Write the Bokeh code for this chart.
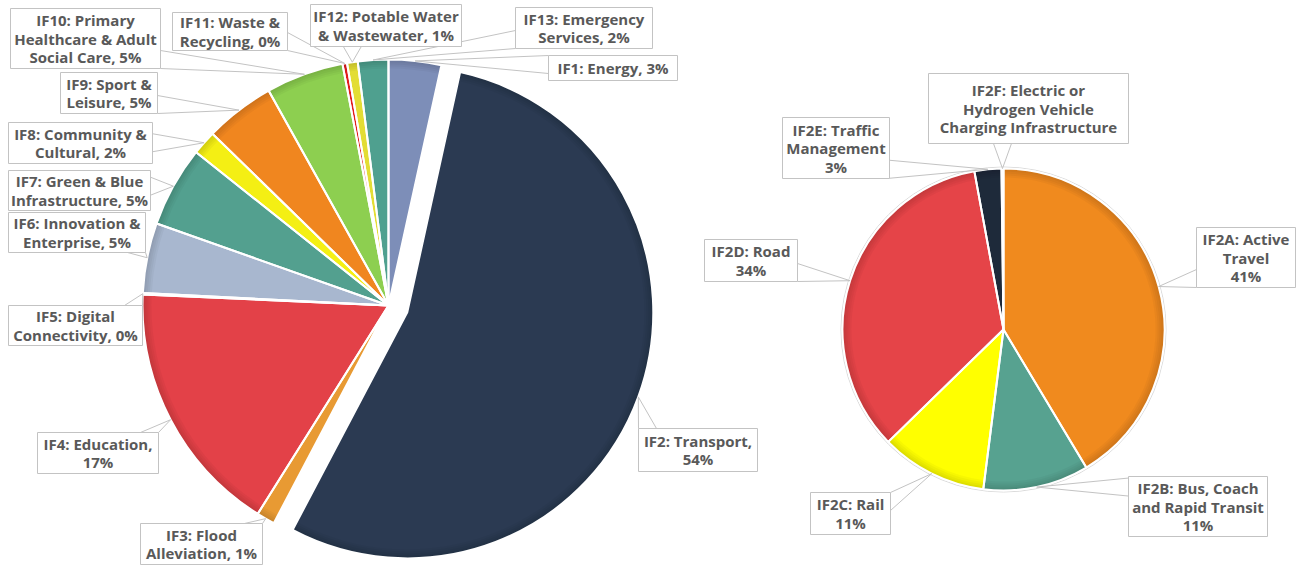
import numpy as np
from bokeh.plotting import figure
from bokeh.models import Range1d, ColumnDataSource
from bokeh.core.properties import value
from bokeh.embed import file_html
from bokeh.resources import INLINE

# ---------------- data ----------------
left_names = ["IF1", "IF2", "IF3", "IF4", "IF5", "IF6", "IF7", "IF8", "IF9", "IF10", "IF11", "IF12", "IF13"]
left_values = [3.45, 54.3, 1.2, 16.8, 0.1, 4.6, 5.3, 1.6, 4.6, 5.1, 0.3, 0.7, 2.0]
left_labels = [
    ["IF1: Energy, {p}"],
    ["IF2: Transport,", "{p}"],
    ["IF3: Flood", "Alleviation, {p}"],
    ["IF4: Education,", "{p}"],
    ["IF5: Digital", "Connectivity, {p}"],
    ["IF6: Innovation &", "Enterprise, {p}"],
    ["IF7: Green & Blue", "Infrastructure, {p}"],
    ["IF8: Community &", "Cultural, {p}"],
    ["IF9: Sport &", "Leisure, {p}"],
    ["IF10: Primary", "Healthcare & Adult", "Social Care, {p}"],
    ["IF11: Waste &", "Recycling, {p}"],
    ["IF12: Potable Water", "& Wastewater, {p}"],
    ["IF13: Emergency", "Services, {p}"],
]
left_colors = ["#7D8EB8", "#2B3A52", "#E89A33", "#E34148", "#9BB06A", "#A8B7CF", "#53A08F",
               "#F4EF14", "#F0861F", "#8DCF50", "#E21C1C", "#E3DD34", "#4FA08F"]

right_names = ["IF2A", "IF2B", "IF2C", "IF2D", "IF2E", "IF2F"]
right_values = [41.4, 10.6, 10.7, 34.4, 2.7, 0.2]
right_labels = [
    ["IF2A: Active", "Travel", "{p}"],
    ["IF2B: Bus, Coach", "and Rapid Transit", "{p}"],
    ["IF2C: Rail", "{p}"],
    ["IF2D: Road", "{p}"],
    ["IF2E: Traffic", "Management", "{p}"],
    ["IF2F: Electric or", "Hydrogen Vehicle", "Charging Infrastructure"],
]
right_colors = ["#F08A1E", "#57A290", "#FFFF00", "#E54448", "#1E2A3A", "#3A4A60"]

# ---------------- layout (image pixel coordinates, y down) ----------------
W, H = 1308, 565
LEFT_C = (388, 305)
LEFT_R = 246
EXPLODE = {1: 20}
RIGHT_C = (1003, 329)
RIGHT_R = 161

left_boxes = [
    (548, 55, 677, 80), (638, 428, 757, 471), (140, 523, 262, 564), (37, 432, 158, 473),
    (8, 305, 142, 345), (8, 212, 145, 252), (8, 170, 150, 210), (8, 122, 152, 163),
    (60, 72, 157, 113), (10, 8, 160, 68), (172, 12, 287, 50), (310, 4, 461, 46),
    (515, 7, 652, 48),
]
right_boxes = [
    (1196, 227, 1295, 287), (1128, 476, 1267, 536), (810, 492, 890, 534),
    (704, 239, 797, 281), (782, 117, 889, 178), (928, 73, 1128, 143),
]

TEXT_COLOR = "#595959"
BOX_LINE = "#C3C3C3"
LINE_H = 18.5
FONT = "Open Sans"


def Y(y):
    return H - y


p = figure(width=W, height=H, output_backend="svg", toolbar_location=None,
           x_range=Range1d(0, W), y_range=Range1d(0, H), min_border=0)
p.axis.visible = False
p.grid.visible = False
p.outline_line_color = None
p.background_fill_color = "white"
p.border_fill_color = "white"


def pie(values, colors, center, radius, explode):
    v = np.array(values, dtype=float)
    frac = v / v.sum()
    cum = np.concatenate([[0], np.cumsum(frac)])
    th0 = 2 * np.pi * cum[:-1]
    th1 = 2 * np.pi * cum[1:]
    mid = (th0 + th1) / 2
    xs, ys, targets = [], [], []
    for i in range(len(v)):
        d = explode.get(i, 0)
        cx = center[0] + d * np.sin(mid[i])
        cy = center[1] - d * np.cos(mid[i])
        xs.append(cx)
        ys.append(Y(cy))
        targets.append((cx + radius * np.sin(mid[i]), cy - radius * np.cos(mid[i])))
    src = ColumnDataSource(dict(x=xs, y=ys, start=list(np.pi / 2 - th1), end=list(np.pi / 2 - th0),
                                color=colors))
    p.wedge(x="x", y="y", radius=radius, start_angle="start", end_angle="end",
            direction="anticlock", fill_color="color", line_color=None, source=src)
    # soft darker rim (inner shadow look)
    for k in range(1, 5):
        p.annular_wedge(x="x", y="y", inner_radius=radius - 2 * k - 1, outer_radius=radius,
                        start_angle="start", end_angle="end", direction="anticlock",
                        fill_color="black", fill_alpha=0.03, line_color=None, source=src)
    p.wedge(x="x", y="y", radius=radius, start_angle="start", end_angle="end",
            direction="anticlock", fill_color=None, line_color="white", line_width=2, source=src)
    pct = [f"{int(round(f * 100))}%" for f in frac]
    return targets, pct


def base_points(box, t, w=9):
    x0, y0, x1, y1 = box
    tx, ty = t
    dxo = max(x0 - tx, 0, tx - x1)
    dyo = max(y0 - ty, 0, ty - y1)
    if dyo >= dxo:
        sy = y0 if ty < y0 else y1
        cx = min(max(tx, x0 + w), x1 - w)
        return (cx - w, sy), (cx + w, sy)
    sx = x0 if tx < x0 else x1
    cy = min(max(ty, y0 + w), y1 - w)
    return (sx, cy - w), (sx, cy + w)


def labels(boxes, targets, texts, pct):
    lx, ly = [], []
    qx0, qx1, qy0, qy1 = [], [], [], []
    tx, ty, tt = [], [], []
    for box, t, lines, pc in zip(boxes, targets, texts, pct):
        b1, b2 = base_points(box, t)
        lx.append([b1[0], t[0], b2[0]])
        ly.append([Y(b1[1]), Y(t[1]), Y(b2[1])])
        x0, y0, x1, y1 = box
        qx0.append(x0); qx1.append(x1); qy0.append(Y(y1)); qy1.append(Y(y0))
        cy = (y0 + y1) / 2
        n = len(lines)
        for i, ln in enumerate(lines):
            tx.append((x0 + x1) / 2)
            ty.append(Y(cy + (i - (n - 1) / 2) * LINE_H))
            tt.append(ln.replace("{p}", pc))
    p.multi_line(xs=lx, ys=ly, line_color=BOX_LINE, line_width=1)
    p.quad(left=qx0, right=qx1, bottom=qy0, top=qy1, fill_color="white", line_color=BOX_LINE, line_width=1)
    p.text(x=tx, y=ty, text=tt, text_align="center", text_baseline="middle",
           text_font=value(FONT), text_font_style="bold", text_font_size="15px", text_color=TEXT_COLOR)


# right pie faint outer ring
p.circle(x=[RIGHT_C[0]], y=[Y(RIGHT_C[1])], radius=RIGHT_R + 1.5, fill_color=None,
         line_color="#DADADA", line_width=1)

lt, lp = pie(left_values, left_colors, LEFT_C, LEFT_R, EXPLODE)
rt, rp = pie(right_values, right_colors, RIGHT_C, RIGHT_R, {})
labels(left_boxes, lt, left_labels, lp)
labels(right_boxes, rt, right_labels, rp)

open("out.html", "w").write(file_html(p, INLINE))
